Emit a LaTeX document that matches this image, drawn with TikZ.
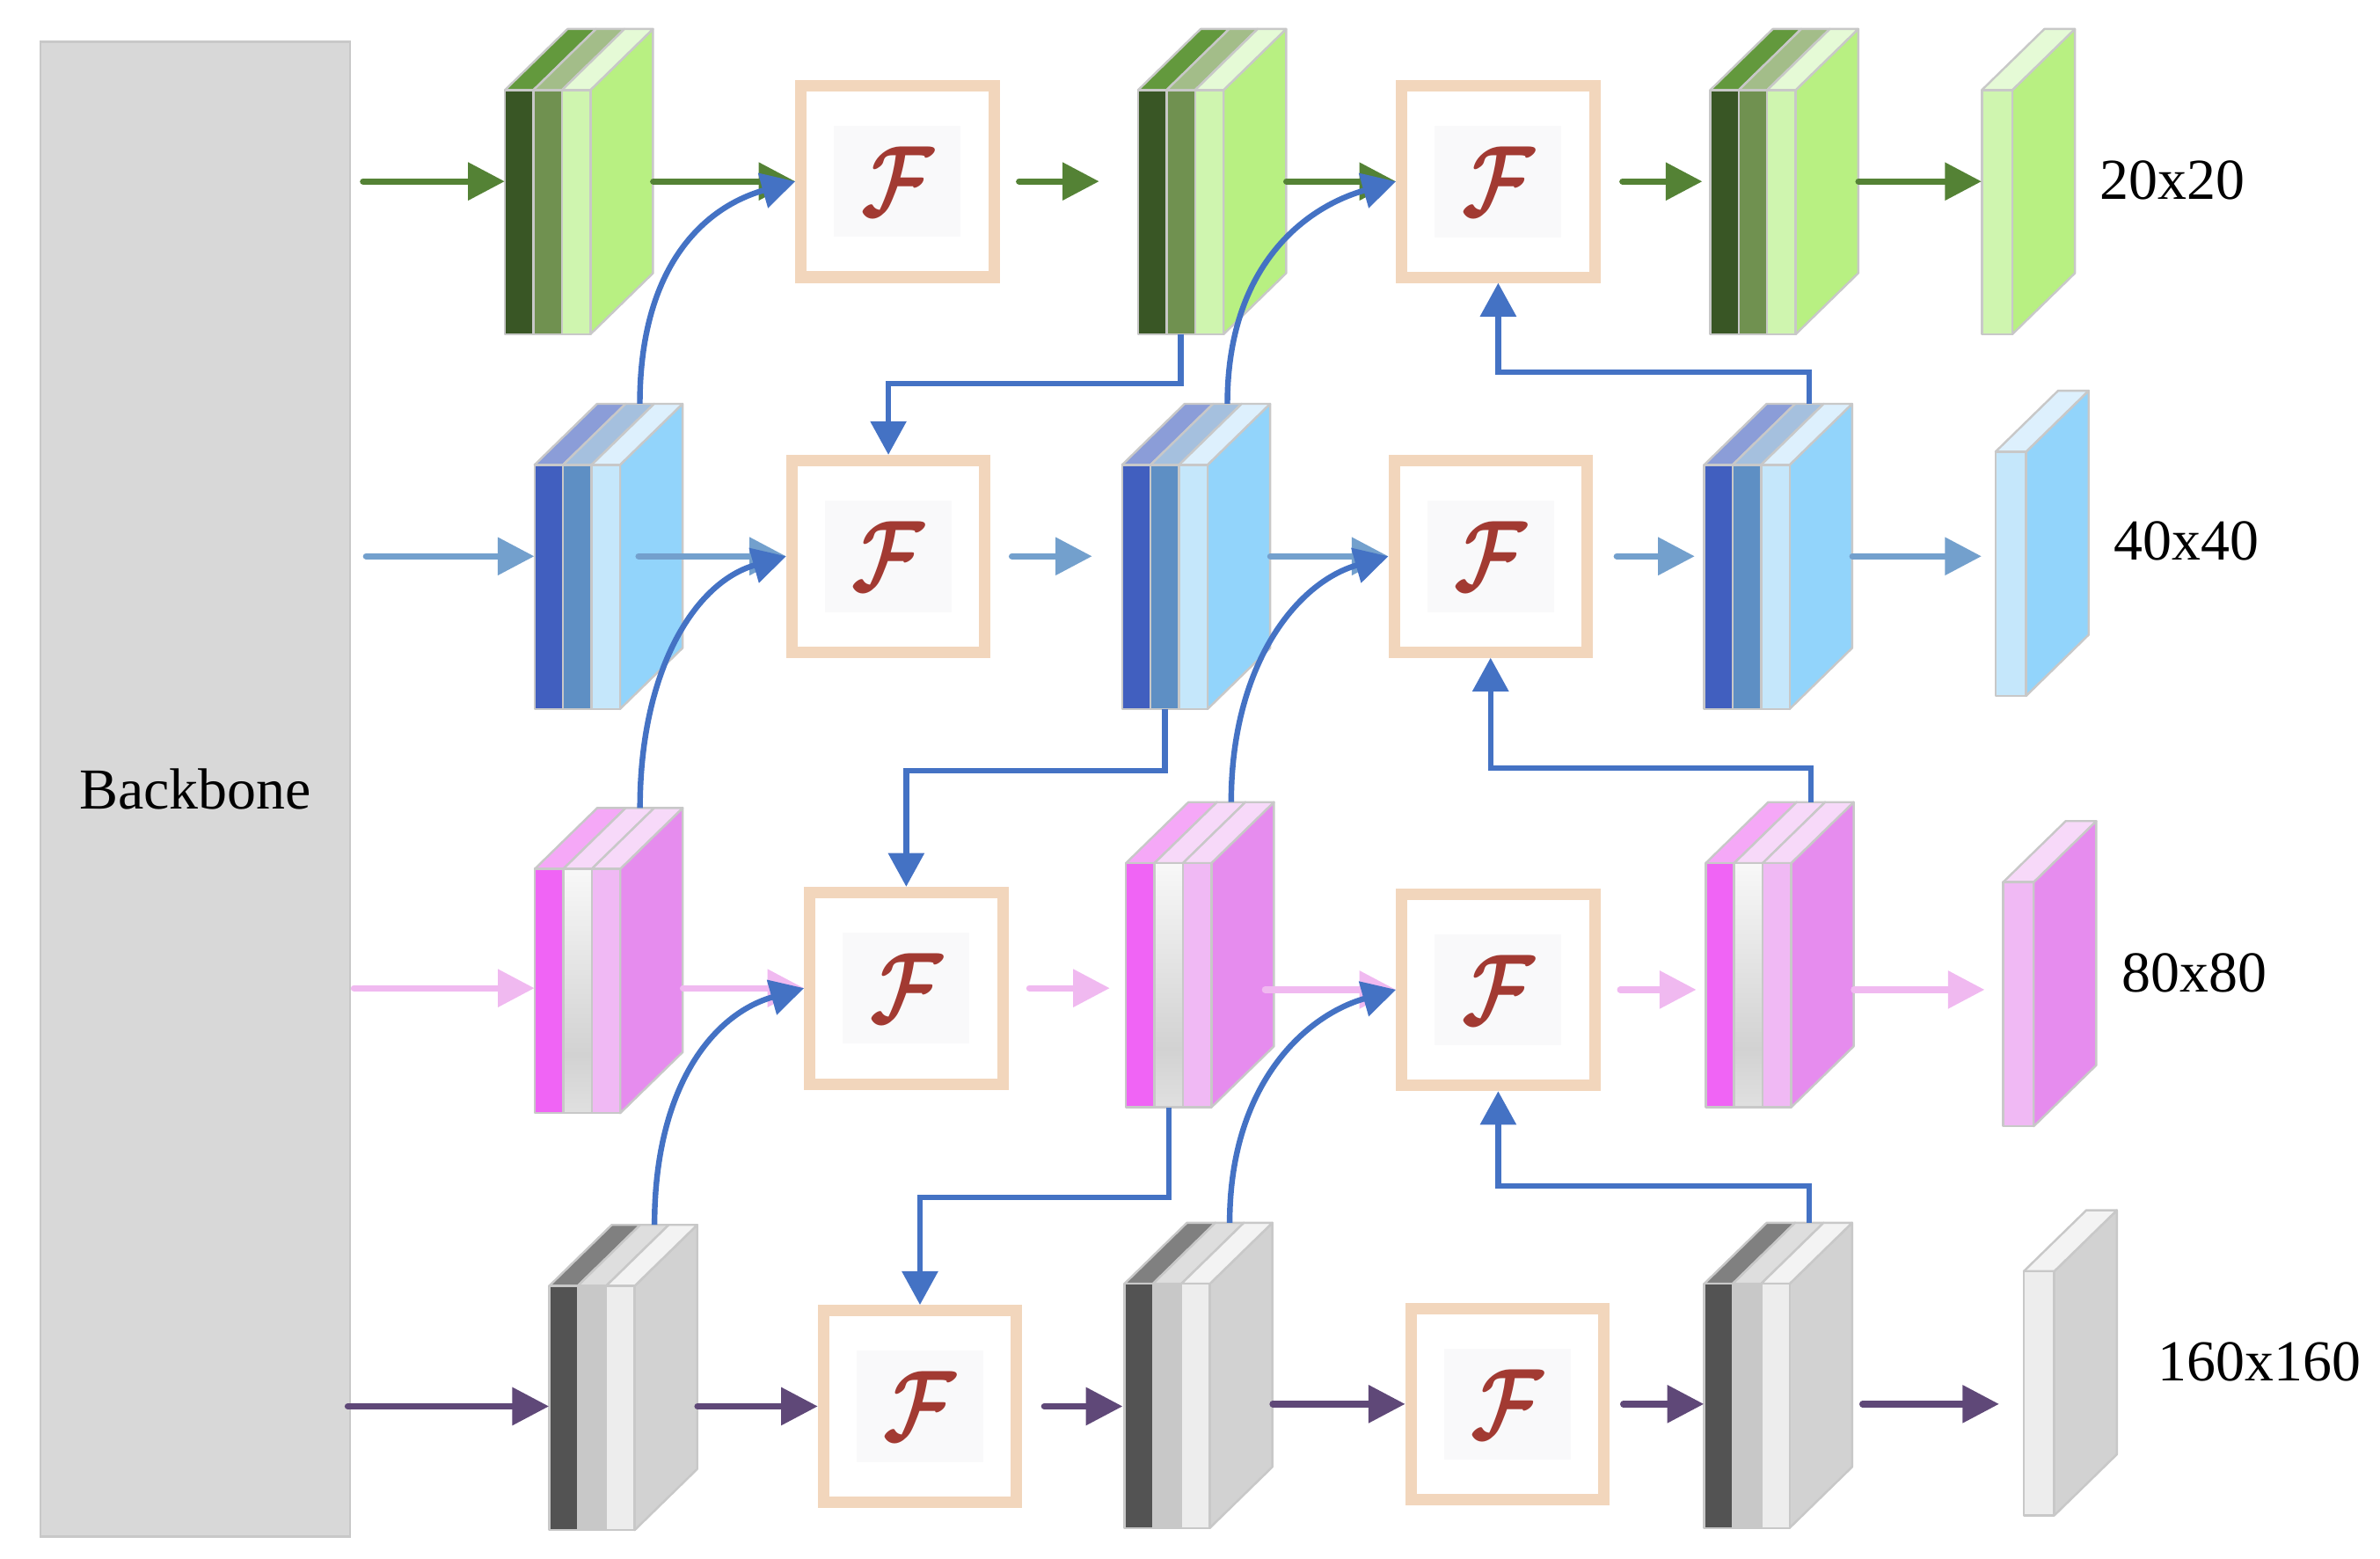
\documentclass[tikz,border=0pt]{standalone}
\usepackage{amsmath}
\usepackage{fontspec}
\setmainfont{Liberation Serif}
\usepackage{graphicx}
\usetikzlibrary{arrows.meta,calc}

\definecolor{edgegray}{HTML}{C8C8C8}
\definecolor{bbfill}{HTML}{D8D8D8}
\definecolor{gF1}{HTML}{395625}\definecolor{gF2}{HTML}{709150}\definecolor{gF3}{HTML}{CFF5AF}
\definecolor{gT1}{HTML}{63993D}\definecolor{gT2}{HTML}{A3BD89}\definecolor{gT3}{HTML}{E5FAD6}\definecolor{gR}{HTML}{B8F082}
\definecolor{bF1}{HTML}{415FBF}\definecolor{bF2}{HTML}{5E8FC4}\definecolor{bF3}{HTML}{C5E7FB}
\definecolor{bT1}{HTML}{8B9DD8}\definecolor{bT2}{HTML}{A5C0DE}\definecolor{bT3}{HTML}{DDF0FD}\definecolor{bR}{HTML}{92D4FB}
\definecolor{pF1}{HTML}{F064F5}\definecolor{pF2}{HTML}{E0E0E0}\definecolor{pF3}{HTML}{F0B9F4}
\definecolor{pT1}{HTML}{F5A8F7}\definecolor{pT2}{HTML}{F7D9F9}\definecolor{pT3}{HTML}{F7D9F9}\definecolor{pR}{HTML}{E68CEE}
\definecolor{kF1}{HTML}{535353}\definecolor{kF2}{HTML}{C8C8C8}\definecolor{kF3}{HTML}{EDEDED}
\definecolor{kT1}{HTML}{808080}\definecolor{kT2}{HTML}{DEDEDE}\definecolor{kT3}{HTML}{F3F3F3}\definecolor{kR}{HTML}{D2D2D2}
\definecolor{midA}{HTML}{F8F8F8}\definecolor{midB}{HTML}{D2D2D2}\definecolor{midC}{HTML}{E0E0E0}
\definecolor{arrG}{HTML}{548235}\definecolor{arrB}{HTML}{73A0CD}
\definecolor{arrP}{HTML}{F0B9F0}\definecolor{arrK}{HTML}{5F4878}
\definecolor{linkblue}{HTML}{4472C4}
\definecolor{fborder}{HTML}{F2D6BC}
\definecolor{fglyph}{HTML}{A23A32}
\definecolor{faintbg}{HTML}{F9F9FA}

\pgfdeclareverticalshading{pinkmid}{100bp}{color(0bp)=(midC); color(25bp)=(midC); color(37bp)=(midB); color(75bp)=(midA); color(100bp)=(midA)}

\tikzset{
  faceedge/.style={draw=edgegray, line width=1.4pt, line join=round},
  gmid/.style={fill=gF2}, bmid/.style={fill=bF2}, kmid/.style={fill=kF2},
  pmid/.style={shade, shading=pinkmid},
  blockbox/.style={inner sep=0pt, minimum width=97pt, minimum height=200pt, draw=none},
  outbox/.style={inner sep=0pt, minimum width=61pt, minimum height=200pt, draw=none},
  fnode/.style={draw=fborder, line width=7.5pt, fill=white, minimum width=126.5pt, minimum height=125.5pt, inner sep=0pt},
  glyph/.style={text=fglyph, inner sep=0pt},
  bbstyle/.style={fill=bbfill, draw=edgegray, line width=1.5pt, minimum width=203pt, minimum height=979.5pt, inner sep=0pt, font=\fontsize{38}{40}\selectfont},
  lbl/.style={inner sep=0pt, font=\fontsize{38}{40}\selectfont},
  rowarr/.style={line width=4.2pt, line cap=round, -{Triangle[length=24pt,width=24pt]}},
  rowG/.style={rowarr, draw=arrG, arrG},
  rowB/.style={rowarr, draw=arrB, arrB},
  rowP/.style={rowarr, draw=arrP, arrP},
  rowK/.style={rowarr, draw=arrK, arrK},
  link/.style={draw=linkblue, line width=3.7pt, -{Triangle[length=22pt,width=23pt]}},
}

\newcommand{\featblock}[4]{%
\begin{scope}[shift={(#2,#3)}]
  \path[faceedge,fill=#4R] (56,0) -- (97,-40) -- (97,120) -- (56,160) -- cycle;
  \path[faceedge,fill=#4T1] (0,0) -- (41,-40) -- (59.67,-40) -- (18.67,0) -- cycle;
  \path[faceedge,fill=#4T2] (18.67,0) -- (59.67,-40) -- (78.33,-40) -- (37.33,0) -- cycle;
  \path[faceedge,fill=#4T3] (37.33,0) -- (78.33,-40) -- (97,-40) -- (56,0) -- cycle;
  \path[faceedge,fill=#4F1] (0,0) rectangle (18.67,160);
  \path[faceedge,#4mid] (18.67,0) rectangle (37.33,160);
  \path[faceedge,fill=#4F3] (37.33,0) rectangle (56,160);
  \node[blockbox] (#1) at (48.5,60) {};
  \coordinate (#1-top) at (69,-40);
  \coordinate (#1-bot) at (28,160);
\end{scope}}

\newcommand{\outblock}[4]{%
\begin{scope}[shift={(#2,#3)}]
  \path[faceedge,fill=#4R] (20,0) -- (61,-40) -- (61,120) -- (20,160) -- cycle;
  \path[faceedge,fill=#4T3] (0,0) -- (41,-40) -- (61,-40) -- (20,0) -- cycle;
  \path[faceedge,fill=#4F3] (0,0) rectangle (20,160);
  \node[outbox] (#1) at (30.5,60) {};
\end{scope}}

\newcommand{\fusion}[3]{%
  \node[fnode] (#1) at (#2,#3) {};
  \fill[faintbg] ($(#1.center)+(-41.5,-36.5)$) rectangle ($(#1.center)+(41.5,36.5)$);
  \node[glyph] (#1-g) at (#1.center) {\scalebox{5.2}[6.6]{$\boldsymbol{\mathcal{F}}$}};
}

\begin{document}
\begin{tikzpicture}[x=1pt,y=-1pt]
\useasboundingbox (0,0) rectangle (1560,1021.5);

% backbone
\node[bbstyle] (bb) at (128,517.25) {Backbone};

% feature blocks
\featblock{A1}{331}{59}{g}
\featblock{A2}{746}{59}{g}
\featblock{A3}{1121}{59}{g}
\featblock{B1}{350.4}{304.6}{b}
\featblock{B2}{735.5}{304.6}{b}
\featblock{B3}{1117}{304.6}{b}
\featblock{C1}{350.5}{569.4}{p}
\featblock{C2}{738}{565.6}{p}
\featblock{C3}{1118}{565.6}{p}
\featblock{D1}{360}{842.6}{k}
\featblock{D2}{737}{841.2}{k}
\featblock{D3}{1117}{841.2}{k}

\outblock{O1}{1299}{59}{g}
\outblock{O2}{1308}{296}{b}
\outblock{O3}{1313}{578}{p}
\outblock{O4}{1326.5}{833}{k}

% fusion boxes
\fusion{F1}{588.25}{118.85}
\fusion{F2}{982}{118.9}
\fusion{F3}{582.3}{364.5}
\fusion{F4}{977}{364.5}
\fusion{F5}{594}{647.5}
\fusion{F6}{982}{648.5}
\fusion{F7}{603}{921.5}
\fusion{F8}{988}{920}

% labels
\node[lbl] (L1) at (1424,118) {20x20};
\node[lbl] (L2) at (1433,354.7) {40x40};
\node[lbl] (L3) at (1438.5,637.7) {80x80};
\node[lbl] (L4) at (1481,892.5) {160x160};

% row starts
\coordinate (s1) at (238,118.85);
\coordinate (s2) at (240,364.5);
\coordinate (s3) at (232,647.5);
\coordinate (s4) at (228,921.5);

% row 1
\draw[rowG] (s1) -- (A1.west |- s1);
\draw[rowG] (A1.east |- F1.west) -- (F1.west);
\draw[rowG, shorten <=12.75pt, shorten >=25.4pt] (F1.east) -- (A2.west |- F1.east);
\draw[rowG] (A2.east |- F2.west) -- (F2.west);
\draw[rowG, shorten <=14.5pt, shorten >=5pt] (F2.east) -- (A3.west |- F2.east);
\draw[rowG] (A3.east |- F2.east) -- (O1.west |- F2.east);

% row 2
\draw[rowB] (s2) -- (B1.west |- s2);
\draw[rowB, shorten <=-29pt] (B1.east |- F3.west) -- (F3.west);
\draw[rowB, shorten <=14pt, shorten >=19.5pt] (F3.east) -- (B2.west |- F3.east);
\draw[rowB] (B2.east |- F4.west) -- (F4.west);
\draw[rowB, shorten <=15.75pt, shorten >=6pt] (F4.east) -- (B3.west |- F4.east);
\draw[rowB, shorten >=9pt] (B3.east |- F4.east) -- (O2.west |- F4.east);

% row 3
\draw[rowP] (s3) -- (C1.west |- s3);
\draw[rowP] (C1.east |- F5.west) -- (F5.west);
\draw[rowP, shorten <=13.75pt, shorten >=10.4pt] (F5.east) -- (C2.west |- F5.east);
\draw[rowP, shorten <=-6pt] (C2.east |- F6.west) -- (F6.west);
\draw[rowP, shorten <=13pt, shorten >=6pt] (F6.east) -- (C3.west |- F6.east);
\draw[rowP, shorten >=12pt] (C3.east |- F6.east) -- (O3.west |- F6.east);

% row 4
\draw[rowK] (s4) -- (D1.west |- s4);
\draw[rowK] (D1.east |- F7.west) -- (F7.west);
\draw[rowK, shorten <=14.5pt, shorten >=1pt] (F7.east) -- (D2.west |- F7.east);
\draw[rowK] (D2.east |- F8.west) -- (F8.west);
\draw[rowK, shorten <=9pt] (F8.east) -- (D3.west |- F8.east);
\draw[rowK, shorten <=6.6pt, shorten >=16pt] (D3.east |- F8.east) -- (O4.west |- F8.east);

% top-down links
\draw[link] (A2-bot) -- ++(0,32.5) -| (F3.north);
\draw[link] (B2-bot) -- ++(0,40.5) -| (F5.north);
\draw[link] (C2-bot) -- ++(0,59) -| (F7.north);

% bottom-up links
\draw[link] (B3-top) -- ++(0,-20.6) -| (F2.south);
\draw[link] (C3-top) -- ++(0,-22.3) -| (F4.south);
\draw[link] (D3-top) -- ++(0,-24) -| (F6.south);

% curved links
\draw[link] (B1-top) .. controls +(0,-90) and +(-60,17) .. (F1.west);
\draw[link] (C1-top) .. controls +(0,-90) and +(-60,17) .. (F3.west);
\draw[link] (D1-top) .. controls +(0,-90) and +(-60,17) .. (F5.west);
\draw[link] (B2-top) .. controls +(0,-90) and +(-60,17) .. (F2.west);
\draw[link] (C2-top) .. controls +(0,-90) and +(-60,17) .. (F4.west);
\draw[link] (D2-top) .. controls +(0,-90) and +(-60,17) .. (F6.west);
\end{tikzpicture}
\end{document}
